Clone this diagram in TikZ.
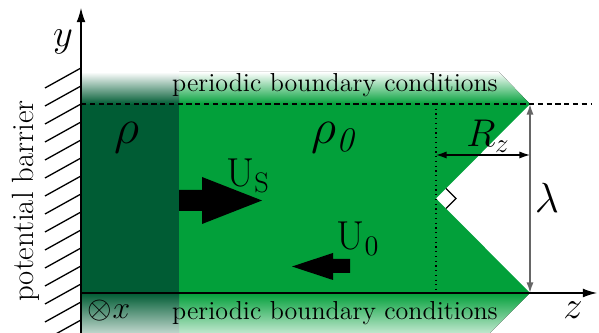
\RequirePackage{fix-cm}
\documentclass[tikz,border=0pt]{standalone}
\usepackage{fontspec}
\usetikzlibrary{arrows.meta}

\definecolor{grnlight}{RGB}{2,160,58}
\definecolor{grndark}{RGB}{0,92,52}

\tikzset{
	bclabel/.style={font=\fontsize{14.8}{16}\selectfont},
	mathlabel/.style={font=\fontsize{22}{24}\selectfont},
	velolabel/.style={font=\fontsize{23}{25}\selectfont},
	densitylabel/.style={font=\fontsize{28}{30}\selectfont},
	fatarrow/.style={fill=black, draw=none},
	dimarrow/.style={{Latex[length=6pt,width=4pt]}-{Latex[length=6pt,width=4pt]}},
	axis/.style={line width=0.7pt, -{Latex[length=8pt,width=5pt]}}
}

\begin{document}
\begin{tikzpicture}[x=0.02cm, y=-0.02cm]
	\useasboundingbox (0,0) rectangle (599,333);

	% corners of the tooth and of the axes
	\coordinate (origin) at (81,293);
	\coordinate (ybase) at (81,340);
	\coordinate (ytip) at (81,8);
	\coordinate (ztip) at (597,293);
	\coordinate (toptooth) at (530,104);
	\coordinate (bottooth) at (530,293);
	\coordinate (notch) at (436,198.5);
	\coordinate (rzleft) at (436,155);
	\coordinate (rzright) at (530,155);

	% fading bands at top and bottom
	\fill[top color=white, bottom color=grnlight] (81,104) -- (81,72) -- (499,72) -- (toptooth) -- cycle;
	\fill[top color=white, bottom color=grndark] (81,104) rectangle (179,72);
	\fill[top color=grnlight, bottom color=grnlight!25] (origin) -- (bottooth) -- (490,333) -- (81,333) -- cycle;
	\fill[top color=grndark, bottom color=grndark!25] (origin) rectangle (179,333);

	% body of the fluid
	\fill[grnlight] (81,104) -- (toptooth) -- (notch) -- (bottooth) -- (origin) -- cycle;
	\fill[grndark] (81,104) rectangle (179,293);

	% potential barrier
	\foreach \k in {0,...,15} {
		\draw[line width=0.75pt] (81,68+18*\k) -- ++(-36,20);
	}
	\node[rotate=90, font=\fontsize{17.5}{19}\selectfont] (barrier) at (26,201) {potential barrier};

	% lines and axes
	\draw[densely dashed, line width=0.6pt] (81,104) -- (592,104);
	\draw[dotted, line width=0.7pt] (436,104) -- (notch) -- (436,293);
	\draw[axis] (ybase) -- (ytip);
	\draw[axis] (origin) -- (ztip);
	\node[mathlabel] (ylabel) at (63,42) {$y$};
	\node[mathlabel] (zlabel) at (573,310) {$z$};
	\node[font=\fontsize{18}{20}\selectfont] (xlabel) at (109,311) {$\otimes x$};

	% boundary conditions
	\node[bclabel] (bctop) at (335,85) {periodic boundary conditions};
	\node[bclabel] (bcbot) at (335,313) {periodic boundary conditions};

	% right angle in the notch
	\draw[line width=0.7pt] (notch) ++(10,-10) -- ++(10,10) -- ++(-10,10);

	% dimensions
	\draw[dimarrow, line width=0.7pt] (rzleft) -- (rzright);
	\draw[dimarrow, line width=0.9pt, gray!80!black] (toptooth) -- (bottooth);
	\node[mathlabel] (rz) at (488,136) {$R_z$};
	\node[mathlabel, font=\fontsize{24}{26}\selectfont] (lambda) at (547,198) {$\lambda$};

	% densities
	\node[densitylabel] (rho) at (127,138) {$\rho$};
	\node[densitylabel] (rhozero) at (333,138) {$\rho_{\mathit{0}}$};

	% shock and upstream velocities
	\fill[fatarrow] (179,190) -- (202,190) -- (202,177) -- (262,200.5) -- (202,224) -- (202,211) -- (179,211) -- cycle;
	\fill[fatarrow] (350,259) -- (333,259) -- (333,253) -- (292,266.5) -- (333,280) -- (333,273) -- (350,273) -- cycle;
	\node[velolabel] (us) at (248,176) {U$_\mathrm{S}$};
	\node[velolabel] (uzero) at (358,239) {U$_0$};
\end{tikzpicture}
\end{document}
